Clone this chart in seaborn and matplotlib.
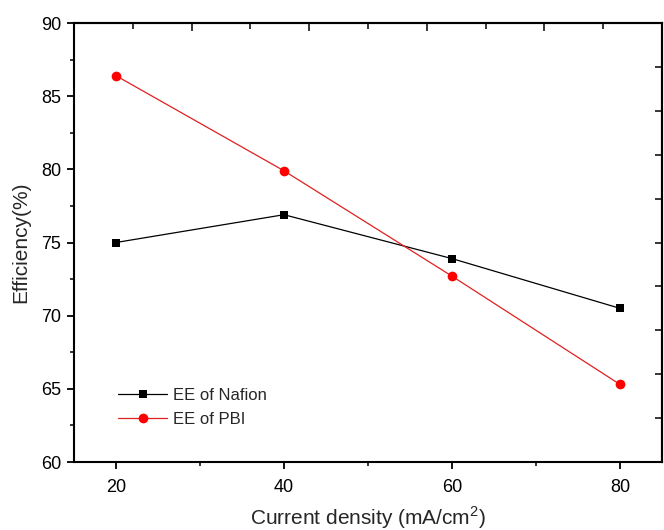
import matplotlib
matplotlib.use("Agg")
import matplotlib.pyplot as plt
import seaborn as sns
import pandas as pd
from matplotlib.ticker import FixedLocator, NullFormatter

# Energy efficiency vs. current density for two membranes
current_density = [20, 40, 60, 80]
ee_nafion = [75.0, 76.9, 73.9, 70.5]
ee_pbi = [86.4, 79.9, 72.7, 65.3]
series_names = ["EE of Nafion", "EE of PBI"]

df = pd.DataFrame({
    "x": current_density * 2,
    "y": ee_nafion + ee_pbi,
    "series": [series_names[0]] * 4 + [series_names[1]] * 4,
})

sns.set_style("white")
plt.rcParams["font.family"] = ["Liberation Sans", "DejaVu Sans"]

fig = plt.figure(figsize=(6.64, 5.30), dpi=100)
ax = fig.add_axes([0.1114, 0.1283, 0.8856, 0.8283])

sns.lineplot(
    data=df, x="x", y="y", hue="series", style="series",
    palette={series_names[0]: "#000000", series_names[1]: "#E02020"},
    markers={series_names[0]: "s", series_names[1]: "o"},
    dashes=False, linewidth=0.9, markersize=7, markeredgewidth=0,
    ax=ax,
)
# marker face colours and sizes
for line in ax.lines:
    if line.get_marker() == "o":
        line.set_markerfacecolor("#FF0000")
        line.set_markersize(7)
    elif line.get_marker() == "s":
        line.set_markersize(6.3)

ax.set_xlim(15, 85)
ax.set_ylim(60, 90)
ax.set_xticks([20, 40, 60, 80])
ax.set_xticks([30, 50, 70], minor=True)
ax.set_yticks([60, 65, 70, 75, 80, 85, 90])
ax.set_yticks([62.5, 67.5, 72.5, 77.5, 82.5, 87.5], minor=True)

for s in ax.spines.values():
    s.set_linewidth(1.5)
    s.set_color("black")

ax.tick_params(axis="both", which="major", direction="out", length=5, width=1.3,
               labelsize=13, colors="black", pad=4)
ax.tick_params(axis="both", which="minor", direction="out", length=3, width=1.3)
ax.tick_params(bottom=True, left=True, which="both")
ax.tick_params(axis="x", which="major", pad=7)

# top and right axes carry their own inward tick marks
top = ax.secondary_xaxis("top")
top.xaxis.set_major_locator(FixedLocator([29, 43, 57, 71]))
top.xaxis.set_minor_locator(FixedLocator([22, 36, 50, 64, 78]))
top.xaxis.set_major_formatter(NullFormatter())
top.tick_params(which="major", direction="in", length=6, width=1.3)
top.tick_params(which="minor", direction="in", length=4, width=1.3)
top.spines["top"].set_linewidth(1.5)

right = ax.secondary_yaxis("right")
right.yaxis.set_major_locator(FixedLocator([63, 66, 69, 72, 75, 78, 81, 84, 87]))
right.yaxis.set_major_formatter(NullFormatter())
right.tick_params(which="major", direction="in", length=5, width=1.3)
right.yaxis.set_minor_locator(FixedLocator([]))
right.spines["right"].set_linewidth(1.5)

ax.set_xlabel("Current density (mA/cm$^{\\mathregular{2}}$)", fontsize=15, labelpad=6)
ax.set_ylabel("Efficiency(%)", fontsize=15, labelpad=8)

leg = ax.legend(loc="lower left", bbox_to_anchor=(0.05, 0.045), frameon=False,
                fontsize=12, handlelength=2.9, handletextpad=0.35,
                labelspacing=0.55)
for h in leg.legend_handles:
    h.set_linewidth(0.9)

fig.savefig("out.png", dpi=100)
